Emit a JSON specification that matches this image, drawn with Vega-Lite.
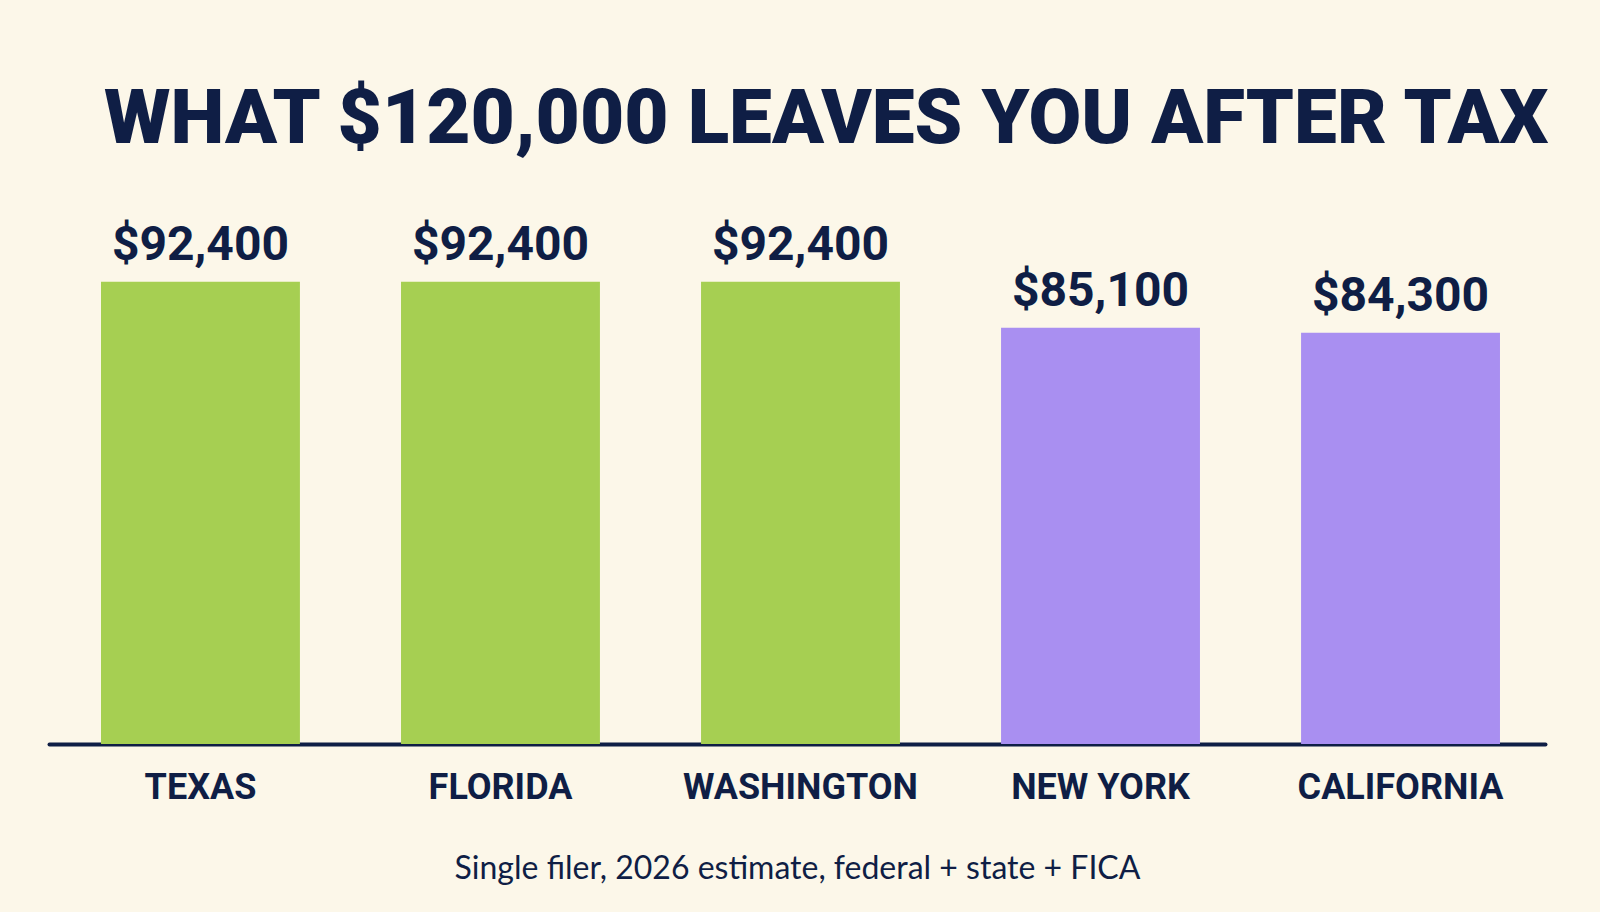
{
  "$schema": "https://vega.github.io/schema/vega-lite/v6.json",
  "autosize": "none",
  "width": 1496,
  "height": 510,
  "padding": {"left": 49, "top": 234, "right": 55, "bottom": 168},
  "background": "#fcf7e9",
  "title": {
    "text": "WHAT $120,000 LEAVES YOU AFTER TAX",
    "anchor": "start",
    "frame": "group",
    "dx": 55,
    "offset": 2,
    "baseline": "alphabetic",
    "font": "Roboto",
    "fontWeight": 900,
    "fontSize": 76.5,
    "color": "#0f1e45"
  },
  "data": {
    "values": [
      {"state": "TEXAS", "takehome": 92400, "type": "no income tax"},
      {"state": "FLORIDA", "takehome": 92400, "type": "no income tax"},
      {"state": "WASHINGTON", "takehome": 92400, "type": "no income tax"},
      {"state": "NEW YORK", "takehome": 85100, "type": "income tax"},
      {"state": "CALIFORNIA", "takehome": 84300, "type": "income tax"}
    ]
  },
  "encoding": {
    "x": {
      "field": "state",
      "type": "nominal",
      "sort": null,
      "scale": {"paddingInner": 0.337, "paddingOuter": 0.1617, "align": 0.536},
      "axis": {
        "title": "Single filer, 2026 estimate, federal + state + FICA",
        "titleFont": "Lato",
        "titleFontWeight": "normal",
        "titleFontSize": 32,
        "titleColor": "#0f1e45",
        "titlePadding": 48,
        "labelAngle": 0,
        "labelLimit": 0,
        "labelFont": "Roboto",
        "labelFontWeight": "bold",
        "labelFontSize": 36,
        "labelColor": "#0f1e45",
        "labelPadding": 26,
        "ticks": false,
        "domainColor": "#0f1e45",
        "domainWidth": 4,
        "domainCap": "round"
      }
    },
    "y": {
      "field": "takehome",
      "type": "quantitative",
      "scale": {"domain": [19000, 100000], "zero": false},
      "axis": null
    }
  },
  "layer": [
    {
      "mark": {"type": "bar", "clip": true},
      "encoding": {
        "color": {
          "field": "type",
          "type": "nominal",
          "scale": {"domain": ["no income tax", "income tax"], "range": ["#a6cf52", "#a98ff1"]},
          "legend": null
        }
      }
    },
    {
      "mark": {
        "type": "text",
        "baseline": "alphabetic",
        "dy": -22,
        "font": "Roboto",
        "fontWeight": "bold",
        "fontSize": 48,
        "color": "#0f1e45"
      },
      "encoding": {
        "text": {"field": "takehome", "type": "quantitative", "format": "$,.0f"}
      }
    }
  ],
  "config": {
    "view": {"stroke": null}
  }
}
